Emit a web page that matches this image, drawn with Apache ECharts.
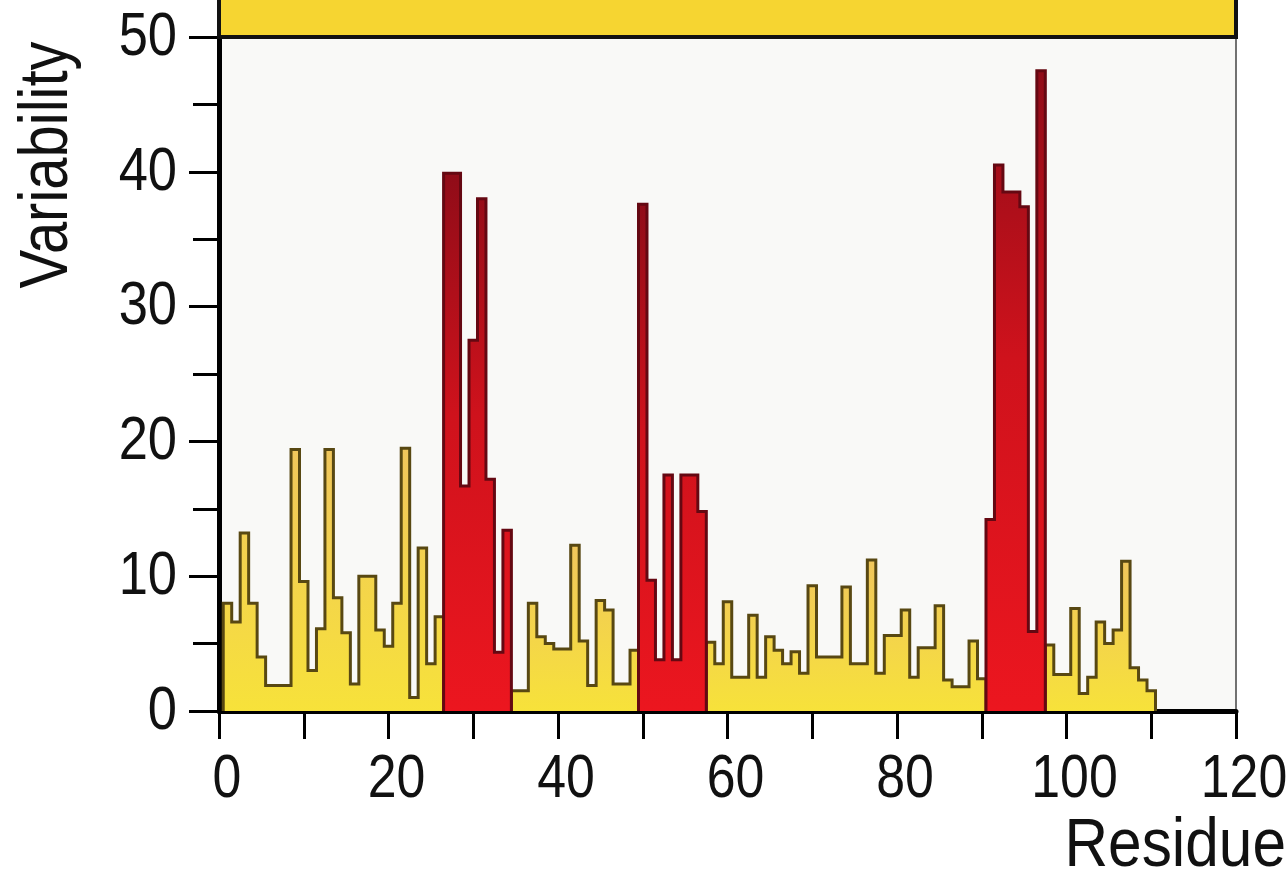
<!DOCTYPE html>
<html>
<head>
<meta charset="utf-8">
<script src="https://cdn.jsdelivr.net/npm/echarts/dist/echarts.min.js"></script>
<style>
html, body { margin: 0; padding: 0; background: #fff; }
#chart { width: 1287px; height: 879px; }
</style>
</head>
<body>
<div id="chart"></div>
<script>
// variability per residue, residue number = position in list (1..110)
var variability = [
    8.0, 6.6, 13.2, 8.0, 4.0, 1.9, 1.9, 1.9, 19.4, 9.6,
    3.0, 6.1, 19.4, 8.4, 5.8, 2.0, 10.0, 10.0, 6.0, 4.8,
    8.0, 19.5, 1.0, 12.1, 3.5, 7.0, 39.9, 39.9, 16.7, 27.5,
    38.0, 17.2, 4.35, 13.4, 1.5, 1.5, 8.0, 5.5, 5.0, 4.6,
    4.6, 12.3, 5.2, 1.9, 8.2, 7.5, 2.0, 2.0, 4.5, 37.6,
    9.7, 3.8, 17.5, 3.8, 17.5, 17.5, 14.8, 5.1, 3.5, 8.1,
    2.5, 2.5, 7.1, 2.5, 5.5, 4.5, 3.5, 4.4, 2.8, 9.3,
    4.0, 4.0, 4.0, 9.2, 3.5, 3.5, 11.2, 2.8, 5.6, 5.6,
    7.5, 2.5, 4.7, 4.7, 7.8, 2.3, 1.8, 1.8, 5.2, 2.4,
    14.2, 40.5, 38.5, 38.5, 37.4, 5.9, 47.5, 4.9, 2.7, 2.7,
    7.6, 1.3, 2.5, 6.6, 5.0, 6.0, 11.1, 3.2, 2.3, 1.5
];
// hypervariable stretches (drawn red)
var cdrRanges = [[27, 34], [50, 57], [91, 97]];
var xMin = 0, xMax = 120, xStep = 10;
var yMin = 0, yMax = 50, yStep = 10;
var xLabels = [0, 20, 40, 60, 80, 100, 120];
var yLabels = [0, 10, 20, 30, 40, 50];

var FONT = '"Liberation Sans", Arial, sans-serif';

function isCdr(r) {
    return cdrRanges.some(function (c) { return r >= c[0] && r <= c[1]; });
}

// split into runs of same kind
var segments = [];
variability.forEach(function (v, i) {
    var r = i + 1;
    var cdr = isCdr(r);
    var last = segments[segments.length - 1];
    if (!last || last.cdr !== cdr) {
        last = {cdr: cdr, pts: []};
        segments.push(last);
    }
    last.pts.push([r, v]);
});

// histogram outline: each residue is a flat step one unit wide
function stepData(pts) {
    var d = [];
    d.push([Math.max(0, pts[0][0] - 0.5), 0]);
    pts.forEach(function (p) {
        d.push([Math.max(0, p[0] - 0.5), p[1]]);
        d.push([p[0] + 0.5, p[1]]);
    });
    d.push([pts[pts.length - 1][0] + 0.5, 0]);
    return d;
}

var yellowFill = new echarts.graphic.LinearGradient(0, 0, 0, 1, [
    {offset: 0, color: '#f0c65c'},
    {offset: 1, color: '#f7e23a'}
]);
var redFill = new echarts.graphic.LinearGradient(0, 0, 0, 1, [
    {offset: 0, color: '#900c18'},
    {offset: 0.45, color: '#cf121c'},
    {offset: 1, color: '#ec161f'}
]);

var series = segments.map(function (s) {
    return {
        type: 'line',
        data: stepData(s.pts),
        symbol: 'none',
        silent: true,
        z: s.cdr ? 3 : 2,
        lineStyle: {color: s.cdr ? '#650812' : '#584812', width: 3, join: 'miter'},
        areaStyle: {color: s.cdr ? redFill : yellowFill, opacity: 1}
    };
});

// condensed text (no narrow font installed): squeeze horizontally
function label(text, x, y, size, squeeze, align, rot) {
    return {
        type: 'text', z: 100, x: x, y: y, scaleX: squeeze, rotation: rot || 0,
        style: {text: text, font: size + 'px ' + FONT, fill: '#111',
            align: align, verticalAlign: 'middle', textAlign: align, textVerticalAlign: 'middle'}
    };
}

var graphics = [
    {
        type: 'rect', z: 100,
        shape: {x: 219, y: -4, width: 1017, height: 41},
        style: {fill: '#f6d531', stroke: '#111', lineWidth: 4}
    },
    label('Variability', 48, 165, 69, 0.84, 'center', Math.PI / 2),
    label('Residue', 1286, 847, 69, 0.875, 'right')
];

var option = {
    animation: false,
    backgroundColor: '#ffffff',
    grid: {
        left: 219, right: 51, top: 37, bottom: 168,
        containLabel: false,
        outerBoundsMode: 'none',
        show: true,
        backgroundColor: '#f9f9f7',
        borderColor: '#444',
        borderWidth: 1.5
    },
    xAxis: {
        type: 'value',
        min: xMin, max: xMax, interval: xStep,
        axisLine: {show: true, onZero: false, lineStyle: {color: '#000', width: 5}},
        axisTick: {show: true, length: 28, lineStyle: {color: '#000', width: 3}},
        splitLine: {show: false},
        axisLabel: {show: false}
    },
    yAxis: {
        type: 'value',
        min: yMin, max: yMax, interval: yStep,
        axisLine: {show: true, lineStyle: {color: '#000', width: 5}},
        axisTick: {show: true, length: 30, lineStyle: {color: '#000', width: 3}},
        minorTick: {show: true, splitNumber: 2, length: 26, lineStyle: {color: '#000', width: 3}},
        splitLine: {show: false},
        minorSplitLine: {show: false},
        axisLabel: {show: false}
    },
    graphic: graphics,
    series: series
};

var chart = echarts.init(document.getElementById('chart'));
chart.setOption(option);

// tick labels placed at the axis scale positions
xLabels.forEach(function (v) {
    var px = chart.convertToPixel({xAxisIndex: 0}, v);
    graphics.push(label(String(v), px + 8, 780, 61, 0.85, 'center'));
});
yLabels.forEach(function (v) {
    var py = chart.convertToPixel({yAxisIndex: 0}, v);
    graphics.push(label(String(v), 177, py + 1, 61, 0.86, 'right'));
});
chart.setOption({graphic: graphics});
</script>
</body>
</html>
